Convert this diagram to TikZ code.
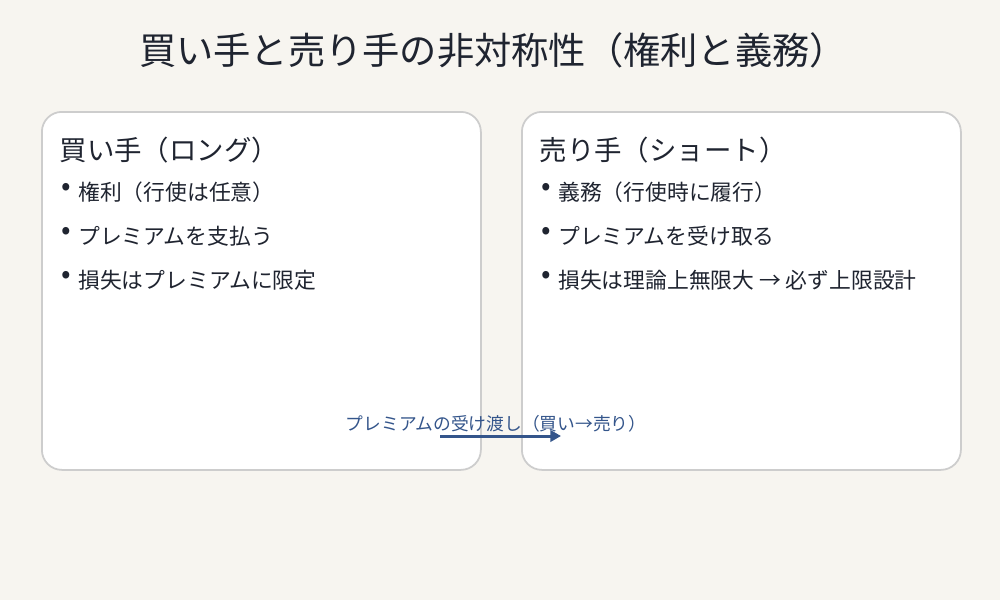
\documentclass[tikz,border=0pt]{standalone}
\usepackage{fontspec}
\setmainfont{Noto Sans CJK JP}
\usetikzlibrary{arrows.meta, positioning}
\definecolor{bgcol}{HTML}{F7F5F0}
\definecolor{boxline}{HTML}{CDCDCD}
\definecolor{txtcol}{HTML}{1F2430}
\definecolor{flowcol}{HTML}{34558B}
\newcommand{\itemdot}{\raisebox{1.3pt}{\fontsize{8}{8}\selectfont •}\hspace{2pt}}

\begin{document}
\begin{tikzpicture}[
  side/.style={draw=boxline, fill=white, rounded corners=0.2cm, line width=0.5pt,
    minimum width=4.39cm, minimum height=3.58cm, anchor=north west, inner sep=0},
  head/.style={anchor=west, inner sep=0, text=txtcol, font=\fontsize{7.8}{9}\selectfont},
  item/.style={anchor=west, inner sep=0, text=txtcol, font=\fontsize{6.2}{7}\selectfont},
]
% Background
\fill[bgcol] (0,0) rectangle (10,6);
% Title
\node[text=txtcol, font=\fontsize{10.6}{12}\selectfont] (title) at (4.93,5.5)
  {買い手と売り手の非対称性（権利と義務）};
% Boxes
\node[side] (buyer) at (0.41,4.89) {};
\node[side] (seller) at (5.21,4.89) {};
% Buyer side
\node[head] (buyhead) at (0.59,4.50) {買い手（ロング）};
\node[item] (buy1) at (0.61,4.08) {\itemdot 権利（行使は任意）};
\node[item] (buy2) at (0.61,3.64) {\itemdot プレミアムを支払う};
\node[item] (buy3) at (0.61,3.20) {\itemdot 損失はプレミアムに限定};
% Seller side
\node[head] (sellhead) at (5.39,4.50) {売り手（ショート）};
\node[item] (sell1) at (5.41,4.08) {\itemdot 義務（行使時に履行）};
\node[item] (sell2) at (5.41,3.64) {\itemdot プレミアムを受け取る};
\node[item] (sell3) at (5.41,3.20) {\itemdot 損失は理論上無限大 → 必ず上限設計};
% Premium flow
\node[text=flowcol, font=\fontsize{5.05}{6}\selectfont] (flow) at (4.96,1.76)
  {プレミアムの受け渡し（買い→売り）};
\coordinate (flowS) at (4.40,1.64);
\coordinate (flowE) at (5.61,1.64);
\draw[flowcol, line width=0.85pt, -{Triangle[length=3pt, width=3.2pt]}] (flowS) -- (flowE);
\end{tikzpicture}
\end{document}
